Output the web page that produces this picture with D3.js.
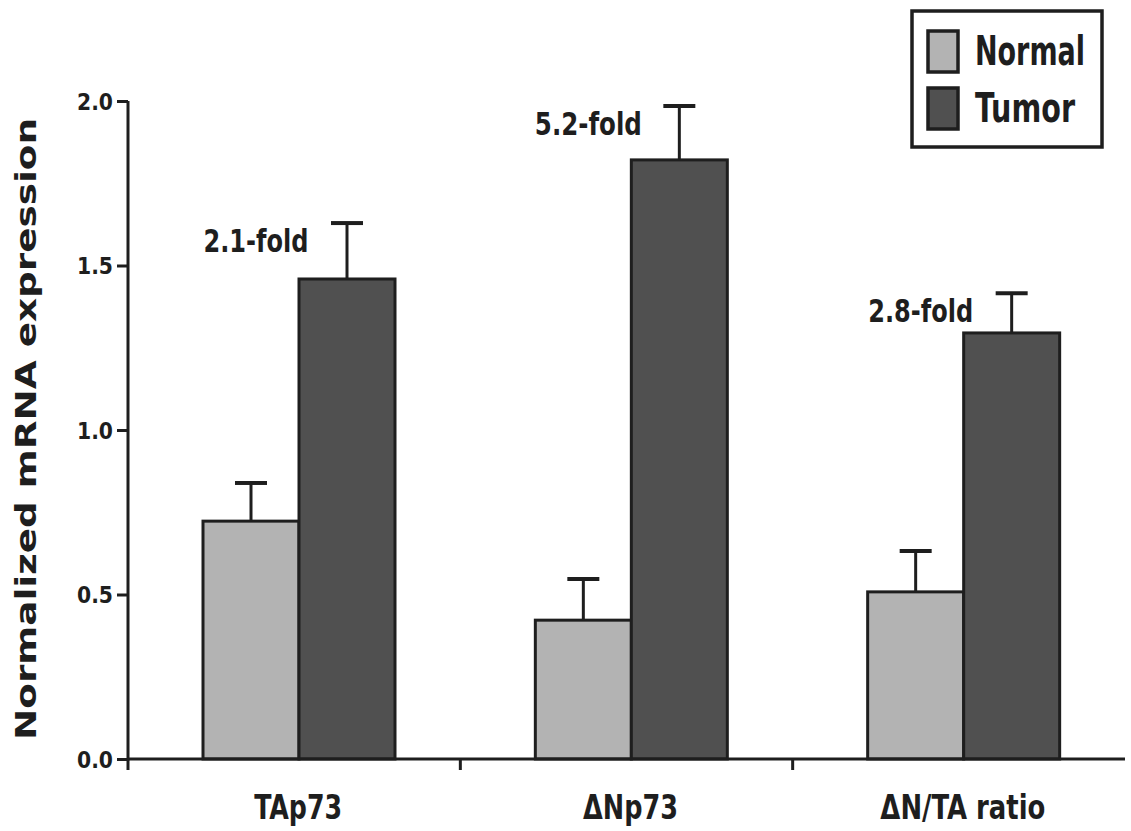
<!DOCTYPE html>
<html><head><meta charset="utf-8">
<script src="https://cdn.jsdelivr.net/npm/d3@7/dist/d3.min.js"></script>
<style>body{margin:0;background:#fff}svg{display:block}</style>
</head><body>
<script>
const categories = ["TAp73", "ΔNp73", "ΔN/TA ratio"];
const seriesNames = ["Normal", "Tumor"];
const normalValues = [0.723, 0.422, 0.508];
const normalErrors = [0.116, 0.125, 0.124];
const tumorValues = [1.459, 1.821, 1.295];
const tumorErrors = [0.170, 0.164, 0.121];
const foldLabels = ["2.1-fold", "5.2-fold", "2.8-fold"];
const yTicks = [0.0, 0.5, 1.0, 1.5, 2.0];
const colors = {Normal: "#b3b3b3", Tumor: "#505050"};
const ink = "#1e1e1e";
const fontC = "'DejaVu Sans Condensed', 'DejaVu Sans', sans-serif";

const W = 1131, H = 831;
const svg = d3.select("body").append("svg").attr("width", W).attr("height", H);

const x0 = d3.scaleBand().domain(categories).range([128, 1125]).padding(0);
const x1 = d3.scaleBand().domain(seriesNames).range([75, 75 + 192]).padding(0);
const y = d3.scaleLinear().domain([0, 2]).range([759, 101]);

const data = categories.map((c, i) => ({
  cat: c, fold: foldLabels[i],
  vals: [
    {s: "Normal", v: normalValues[i], e: normalErrors[i]},
    {s: "Tumor", v: tumorValues[i], e: tumorErrors[i]}
  ]
}));

// bars and error bars
const g = svg.append("g");
const grp = g.selectAll("g.grp").data(data).join("g")
  .attr("transform", d => `translate(${x0(d.cat)},0)`);

grp.selectAll("line.err").data(d => d.vals).join("line")
  .attr("x1", d => x1(d.s) + x1.bandwidth() / 2)
  .attr("x2", d => x1(d.s) + x1.bandwidth() / 2)
  .attr("y1", d => y(d.v)).attr("y2", d => y(d.v + d.e))
  .attr("stroke", ink).attr("stroke-width", 3);
grp.selectAll("line.cap").data(d => d.vals).join("line")
  .attr("x1", d => x1(d.s) + x1.bandwidth() / 2 - 16)
  .attr("x2", d => x1(d.s) + x1.bandwidth() / 2 + 16)
  .attr("y1", d => y(d.v + d.e)).attr("y2", d => y(d.v + d.e))
  .attr("stroke", ink).attr("stroke-width", 4);

grp.selectAll("rect").data(d => d.vals).join("rect")
  .attr("x", d => x1(d.s)).attr("width", x1.bandwidth())
  .attr("y", d => y(d.v)).attr("height", d => y(0) - y(d.v))
  .attr("fill", d => colors[d.s]).attr("stroke", ink).attr("stroke-width", 3);

// fold labels
const foldW = [105, 107, 105];
grp.append("text")
  .attr("x", d => x1("Normal") + x1.bandwidth() / 2 + 5)
  .attr("y", d => y(d.vals[1].v + d.vals[1].e) + 29)
  .attr("text-anchor", "middle")
  .attr("font-family", fontC).attr("font-weight", "bold").attr("font-size", 32)
  .attr("fill", ink)
  .attr("textLength", (d, i) => foldW[i]).attr("lengthAdjust", "spacingAndGlyphs")
  .text(d => d.fold);

// y axis
const yAxis = svg.append("g").attr("transform", "translate(128,0)")
  .call(d3.axisLeft(y).tickValues(yTicks).tickFormat(d3.format(".1f")).tickSize(11).tickPadding(4));
yAxis.select(".domain").attr("stroke", ink).attr("stroke-width", 3)
  .attr("d", `M0,${y(2)}V${y(0) + 1.5}`);
yAxis.selectAll(".tick line").attr("stroke", ink).attr("stroke-width", 3);
yAxis.selectAll(".tick text").attr("font-family", fontC).attr("font-weight", "bold")
  .attr("font-size", 23).attr("fill", ink).attr("dy", "0.36em")
  .attr("textLength", 36).attr("lengthAdjust", "spacingAndGlyphs");

// x axis
const xAxis = svg.append("g").attr("transform", `translate(0,${y(0)})`);
xAxis.append("line").attr("x1", 128).attr("x2", 1125).attr("y1", 0).attr("y2", 0)
  .attr("stroke", ink).attr("stroke-width", 3);
xAxis.selectAll("line.t").data(categories).join("line")
  .attr("x1", d => x0(d)).attr("x2", d => x0(d)).attr("y1", 0).attr("y2", 11)
  .attr("stroke", ink).attr("stroke-width", 3);
const xLabW = [88, 95, 165];
xAxis.selectAll("text").data(categories).join("text")
  .attr("x", d => x0(d) + x0.bandwidth() / 2 + 4)
  .attr("y", 60)
  .attr("text-anchor", "middle")
  .attr("font-family", fontC).attr("font-weight", "bold").attr("font-size", 34)
  .attr("fill", ink)
  .attr("textLength", (d, i) => xLabW[i]).attr("lengthAdjust", "spacingAndGlyphs")
  .text(d => d);

// y title
svg.append("text")
  .attr("transform", `translate(36,${(118 + 740) / 2}) rotate(-90)`)
  .attr("text-anchor", "middle")
  .attr("font-family", "'DejaVu Sans', Verdana, sans-serif").attr("font-weight", "bold")
  .attr("font-size", 29).attr("fill", ink)
  .attr("textLength", 622).attr("lengthAdjust", "spacingAndGlyphs")
  .text("Normalized mRNA expression");

// legend
const lg = svg.append("g");
lg.append("rect").attr("x", 912).attr("y", 11).attr("width", 190).attr("height", 136)
  .attr("fill", "#fff").attr("stroke", ink).attr("stroke-width", 3.5);
const legW = [110, 100];
seriesNames.forEach((s, i) => {
  lg.append("rect").attr("x", 928).attr("y", 31 + i * 57).attr("width", 30).attr("height", 41)
    .attr("fill", colors[s]).attr("stroke", ink).attr("stroke-width", 3.5);
  lg.append("text").attr("x", 975).attr("y", 65 + i * 57)
    .attr("font-family", fontC).attr("font-weight", "bold").attr("font-size", 41)
    .attr("fill", ink)
    .attr("textLength", legW[i]).attr("lengthAdjust", "spacingAndGlyphs")
    .text(s);
});
</script>
</body></html>
